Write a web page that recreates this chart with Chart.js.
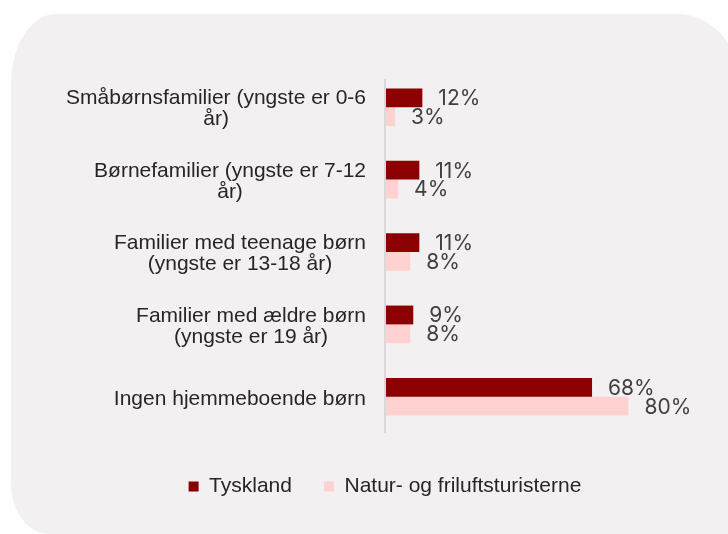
<!DOCTYPE html>
<html>
<head>
<meta charset="utf-8">
<script src="https://cdn.jsdelivr.net/npm/chart.js@4"></script>
<style>
  body { margin: 0; background: #ffffff; }
  #wrap { position: relative; width: 728px; height: 534px; overflow: hidden; }
  #fundo {
    position: absolute; left: 11px; top: 14px; width: 729px; height: 520px;
    background: #f3f0f1;
    border-radius: 45px 63px 0 38px / 70px 70px 0 50px;
  }
  #grafico { position: absolute; left: 0; top: 0; }
</style>
</head>
<body>
<div id="wrap">
  <div id="fundo"></div>
  <canvas id="grafico" width="728" height="534"></canvas>
</div>
<script>
// Dados do grafico //
const categorias = [
  ['Småbørnsfamilier (yngste er 0-6', 'år)'],
  ['Børnefamilier (yngste er 7-12', 'år)'],
  ['Familier med teenage børn', '(yngste er 13-18 år)'],
  ['Familier med ældre børn', '(yngste er 19 år)'],
  ['Ingen hjemmeboende børn']
];
const valoresTyskland = [12, 11, 11, 9, 68];
const valoresNatur = [3, 4, 8, 8, 80];
const nomesSeries = ['Tyskland', 'Natur- og friluftsturisterne'];

const COR_ESCURA = '#8b0000';
const COR_CLARA = '#ffd1d1';
const FONTE_TEXTO = '"Liberation Sans", Arial, sans-serif';

// Linha do eixo y (comeca um pouco abaixo do topo da area)
const linhaEixo = {
  id: 'linhaEixo',
  beforeDatasetsDraw(chart) {
    const { ctx, chartArea } = chart;
    ctx.save();
    ctx.strokeStyle = '#d9d9d9';
    ctx.lineWidth = 2;
    ctx.beginPath();
    ctx.moveTo(chartArea.left - 1, chartArea.top + 8);
    ctx.lineTo(chartArea.left - 1, chartArea.bottom);
    ctx.stroke();
    ctx.restore();
  }
};

// Rotulos do eixo y: cada bloco alinhado a direita, linhas centradas
const rotulosEixo = {
  id: 'rotulosEixo',
  afterDraw(chart) {
    const ctx = chart.ctx;
    const yScale = chart.scales.y;
    const direita = chart.chartArea.left - 20;
    const altLinha = 21;
    ctx.save();
    ctx.font = '21px ' + FONTE_TEXTO;
    ctx.fillStyle = '#262626';
    ctx.textAlign = 'center';
    ctx.textBaseline = 'middle';
    categorias.forEach((linhas, i) => {
      const lista = Array.isArray(linhas) ? linhas : [linhas];
      const larg = Math.max(...lista.map(l => ctx.measureText(l).width));
      const cx = direita - larg / 2;
      const yc = yScale.getPixelForValue(i) + 2;
      const y0 = yc - (lista.length - 1) * altLinha / 2;
      lista.forEach((l, k) => ctx.fillText(l, cx, y0 + k * altLinha));
    });
    ctx.restore();
  }
};

// Rotulos de valor no fim de cada barra
const rotulosValor = {
  id: 'rotulosValor',
  afterDatasetsDraw(chart) {
    const ctx = chart.ctx;
    ctx.save();
    ctx.font = '400 21px Inter, Lato, sans-serif';
    ctx.fillStyle = '#404040';
    ctx.textAlign = 'left';
    ctx.textBaseline = 'middle';
    chart.data.datasets.forEach((ds, d) => {
      chart.getDatasetMeta(d).data.forEach((barra, i) => {
        ctx.fillText(ds.data[i] + '%', barra.x + 16, barra.y + 1);
      });
    });
    ctx.restore();
  }
};

new Chart(document.getElementById('grafico').getContext('2d'), {
  type: 'bar',
  data: {
    labels: categorias,
    datasets: [
      { label: nomesSeries[0], data: valoresTyskland, backgroundColor: COR_ESCURA },
      { label: nomesSeries[1], data: valoresNatur, backgroundColor: COR_CLARA }
    ]
  },
  options: {
    indexAxis: 'y',
    responsive: false,
    animation: false,
    categoryPercentage: 0.52,
    barPercentage: 1.0,
    layout: { padding: { left: 81, right: 39, top: 71, bottom: 27 } },
    scales: {
      x: {
        min: 0, max: 100,
        grid: { display: false },
        border: { display: false },
        ticks: { display: false },
        afterFit: s => { s.height = 11; }
      },
      y: {
        grid: { display: false },
        border: { display: false },
        ticks: { display: false },
        afterFit: s => { s.width = 305; }
      }
    },
    plugins: {
      legend: {
        position: 'bottom',
        labels: {
          boxWidth: 10, boxHeight: 10, padding: 32,
          color: '#262626',
          font: { family: FONTE_TEXTO, size: 21 }
        }
      },
      tooltip: { enabled: false }
    }
  },
  plugins: [linhaEixo, rotulosEixo, rotulosValor]
});
</script>
</body>
</html>
